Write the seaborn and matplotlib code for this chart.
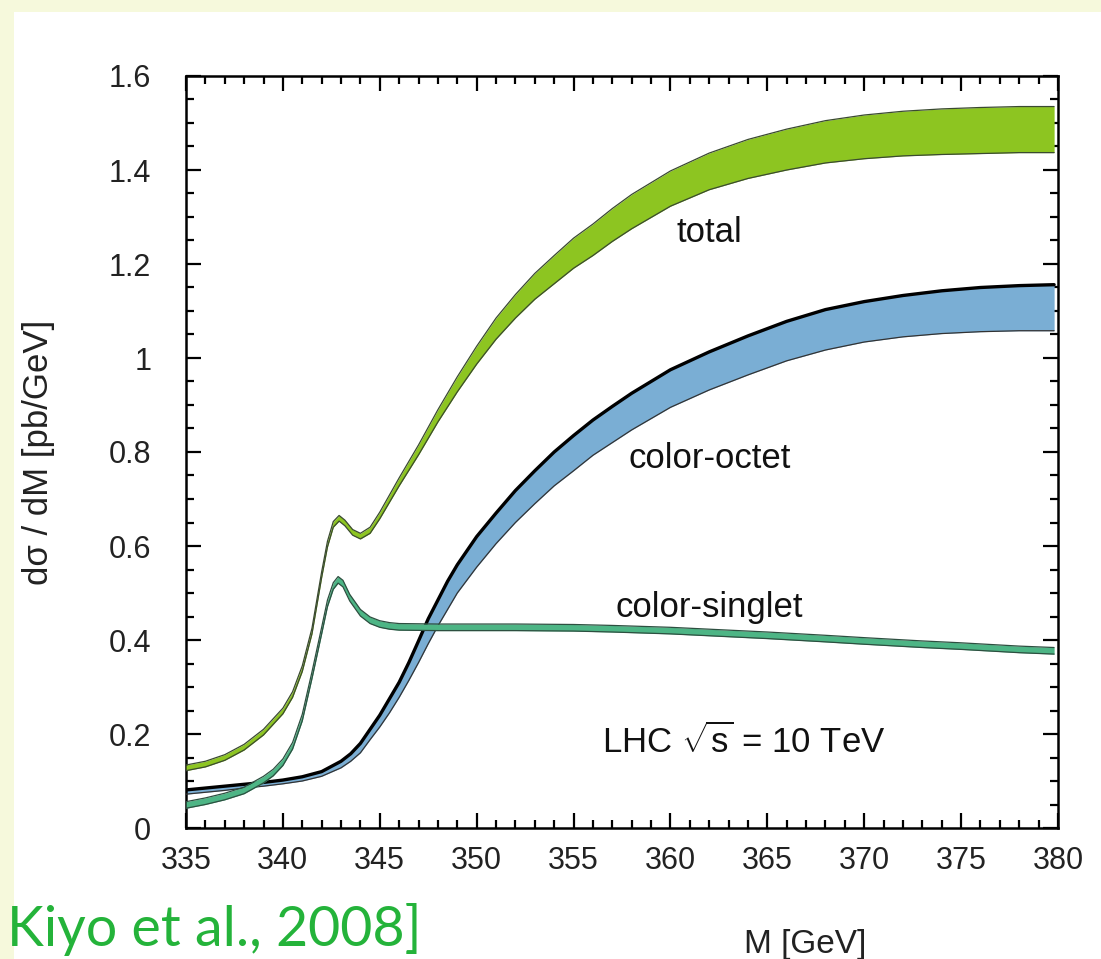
import numpy as np
import pandas as pd
import matplotlib
matplotlib.use("Agg")
import matplotlib.pyplot as plt
from matplotlib.patches import Rectangle
from matplotlib.ticker import MultipleLocator
import seaborn as sns

# ---------------- data ----------------
total_M = [335, 336, 337, 338, 339, 340, 340.5, 341, 341.5, 342, 342.3, 342.6, 342.9,
           343.2, 343.6, 344.0, 344.5, 345, 346, 347, 348, 349, 350, 351, 352, 353,
           354, 355, 356, 357, 358, 360, 362, 364, 366, 368, 370, 372, 374, 376, 378, 379.8]
total_hi = [0.134, 0.142, 0.156, 0.178, 0.210, 0.255, 0.290, 0.345, 0.425, 0.545, 0.610,
            0.652, 0.665, 0.655, 0.635, 0.627, 0.640, 0.672, 0.745, 0.815, 0.890, 0.960,
            1.025, 1.085, 1.135, 1.180, 1.218, 1.255, 1.285, 1.318, 1.348, 1.398, 1.436,
            1.465, 1.487, 1.505, 1.517, 1.525, 1.530, 1.533, 1.535, 1.535]
total_lo = [0.122, 0.130, 0.144, 0.166, 0.198, 0.243, 0.278, 0.333, 0.413, 0.533, 0.598,
            0.640, 0.653, 0.643, 0.623, 0.615, 0.627, 0.658, 0.728, 0.794, 0.864, 0.928,
            0.987, 1.040, 1.085, 1.125, 1.158, 1.191, 1.218, 1.248, 1.275, 1.323, 1.358,
            1.382, 1.400, 1.415, 1.424, 1.430, 1.433, 1.435, 1.437, 1.437]

octet_M = [335, 336, 337, 338, 339, 340, 341, 342, 343, 343.5, 344, 344.5, 345, 345.5,
           346, 346.5, 347, 347.5, 348, 348.5, 349, 350, 351, 352, 353, 354, 355, 356,
           357, 358, 360, 362, 364, 366, 368, 370, 372, 374, 376, 378, 379.8]
octet_hi = [0.081, 0.085, 0.089, 0.093, 0.097, 0.102, 0.109, 0.120, 0.142, 0.158, 0.180,
            0.210, 0.240, 0.275, 0.310, 0.352, 0.398, 0.445, 0.485, 0.525, 0.560, 0.620,
            0.670, 0.718, 0.760, 0.800, 0.835, 0.868, 0.897, 0.925, 0.975, 1.013, 1.047,
            1.078, 1.103, 1.120, 1.133, 1.143, 1.150, 1.154, 1.156]
octet_lo = [0.072, 0.076, 0.080, 0.085, 0.089, 0.094, 0.100, 0.110, 0.128, 0.142, 0.160,
            0.188, 0.215, 0.245, 0.278, 0.314, 0.352, 0.392, 0.430, 0.465, 0.500, 0.555,
            0.605, 0.650, 0.690, 0.728, 0.760, 0.793, 0.820, 0.847, 0.895, 0.932, 0.964,
            0.994, 1.017, 1.034, 1.045, 1.052, 1.056, 1.058, 1.058]

singlet_M = [335, 336, 337, 338, 339, 339.5, 340, 340.5, 341, 341.5, 342, 342.3, 342.6,
             342.85, 343.1, 343.45, 344, 344.5, 345, 345.5, 346, 348, 350, 352, 355, 357,
             360, 363, 365, 368, 370, 373, 375, 378, 379.8]
singlet_mid = [0.049, 0.057, 0.067, 0.080, 0.103, 0.118, 0.140, 0.175, 0.235, 0.325, 0.420,
               0.478, 0.515, 0.528, 0.520, 0.490, 0.458, 0.442, 0.434, 0.430, 0.428, 0.427,
               0.427, 0.427, 0.426, 0.424, 0.420, 0.414, 0.410, 0.403, 0.398, 0.391, 0.387,
               0.380, 0.377]
singlet_halfwidth = 0.007

x_ticks = [335, 340, 345, 350, 355, 360, 365, 370, 375, 380]
y_ticks = [0, 0.2, 0.4, 0.6, 0.8, 1.0, 1.2, 1.4, 1.6]
y_tick_labels = ["0", "0.2", "0.4", "0.6", "0.8", "1", "1.2", "1.4", "1.6"]

labels = ["total", "color-octet", "color-singlet"]
label_M = [362.0, 362.0, 362.0]
label_y = [1.247, 0.766, 0.45]

# ---------------- style ----------------
sns.set_theme(style="ticks")
plt.rcParams["font.family"] = ["Liberation Sans", "DejaVu Sans"]
plt.rcParams["mathtext.fontset"] = "custom"
plt.rcParams["mathtext.rm"] = "Liberation Sans"
plt.rcParams["mathtext.it"] = "Liberation Sans"

W, H = 1101, 959
fig = plt.figure(figsize=(W / 100, H / 100), dpi=100, facecolor="#f6f9dc")
fig.patches.append(Rectangle((14 / W, 0), 1, (H - 12) / H, transform=fig.transFigure,
                             facecolor="white", edgecolor="none", zorder=-10))

ax = fig.add_axes([186 / W, (H - 828) / H, 872 / W, 752 / H])
ax.set_facecolor("white")

df_t = pd.DataFrame({"M": total_M, "lo": total_lo, "hi": total_hi})
df_o = pd.DataFrame({"M": octet_M, "lo": octet_lo, "hi": octet_hi})
df_s = pd.DataFrame({"M": singlet_M, "mid": singlet_mid})
df_s["lo"] = df_s["mid"] - singlet_halfwidth
df_s["hi"] = df_s["mid"] + singlet_halfwidth

c_total = "#8dc521"
c_octet = "#7aaed4"
c_singlet = "#4db585"

# octet band
ax.fill_between(df_o["M"], df_o["lo"], df_o["hi"], color=c_octet, lw=0, zorder=2)
sns.lineplot(data=df_o, x="M", y="lo", ax=ax, color="#333333", lw=0.9, zorder=3)
sns.lineplot(data=df_o, x="M", y="hi", ax=ax, color="black", lw=2.4, zorder=3)

# singlet band
ax.fill_between(df_s["M"], df_s["lo"], df_s["hi"], color=c_singlet, lw=0, zorder=4)
sns.lineplot(data=df_s, x="M", y="lo", ax=ax, color="#2d4f40", lw=0.9, zorder=5)
sns.lineplot(data=df_s, x="M", y="hi", ax=ax, color="#2d4f40", lw=0.9, zorder=5)

# total band
ax.fill_between(df_t["M"], df_t["lo"], df_t["hi"], color=c_total, lw=0, zorder=6)
sns.lineplot(data=df_t, x="M", y="lo", ax=ax, color="#3a4a30", lw=0.9, zorder=7)
sns.lineplot(data=df_t, x="M", y="hi", ax=ax, color="#3a4a30", lw=0.9, zorder=7)

for t, mx, my in zip(labels, label_M, label_y):
    ax.text(mx, my, t, ha="center", va="baseline", fontsize=25, color="#111111")
ax.text(363.8, 0.16, r"LHC $\sqrt{\mathrm{s}}$ = 10 TeV", ha="center", va="baseline",
        fontsize=25, color="#111111")

ax.set_xlim(335, 380)
ax.set_ylim(0, 1.6)
ax.set_xticks(x_ticks)
ax.set_xticklabels([str(v) for v in x_ticks])
ax.set_yticks(y_ticks)
ax.set_yticklabels(y_tick_labels)
ax.xaxis.set_minor_locator(MultipleLocator(1))
ax.yaxis.set_minor_locator(MultipleLocator(0.05))
ax.tick_params(which="both", direction="in", top=True, right=True, color="black",
               width=1.6)
ax.tick_params(which="major", length=10.5)
ax.tick_params(which="minor", length=5.5)
ax.tick_params(axis="x", which="major", pad=13, labelsize=22, labelcolor="#222222")
ax.tick_params(axis="y", which="major", pad=25, labelsize=22, labelcolor="#222222")
for s in ax.spines.values():
    s.set_linewidth(1.8)
    s.set_color("black")
    s.set_visible(True)

ax.set_ylabel("dσ / dM [pb/GeV]", fontsize=25, color="#222222")
ax.yaxis.set_label_coords(-0.150, 0.5)
ax.set_xlabel("M [GeV]", fontsize=24, color="#222222")
ax.xaxis.set_label_coords(0.71, -0.134)
ax.xaxis.label.set_va("top")

fig.text(7 / W, 13 / H, "Kiyo et al., 2008]", family=["Lato", "DejaVu Sans"],
         fontsize=40, color="#24b33a", ha="left", va="baseline")

fig.savefig("out.png", dpi=100, facecolor=fig.get_facecolor())
